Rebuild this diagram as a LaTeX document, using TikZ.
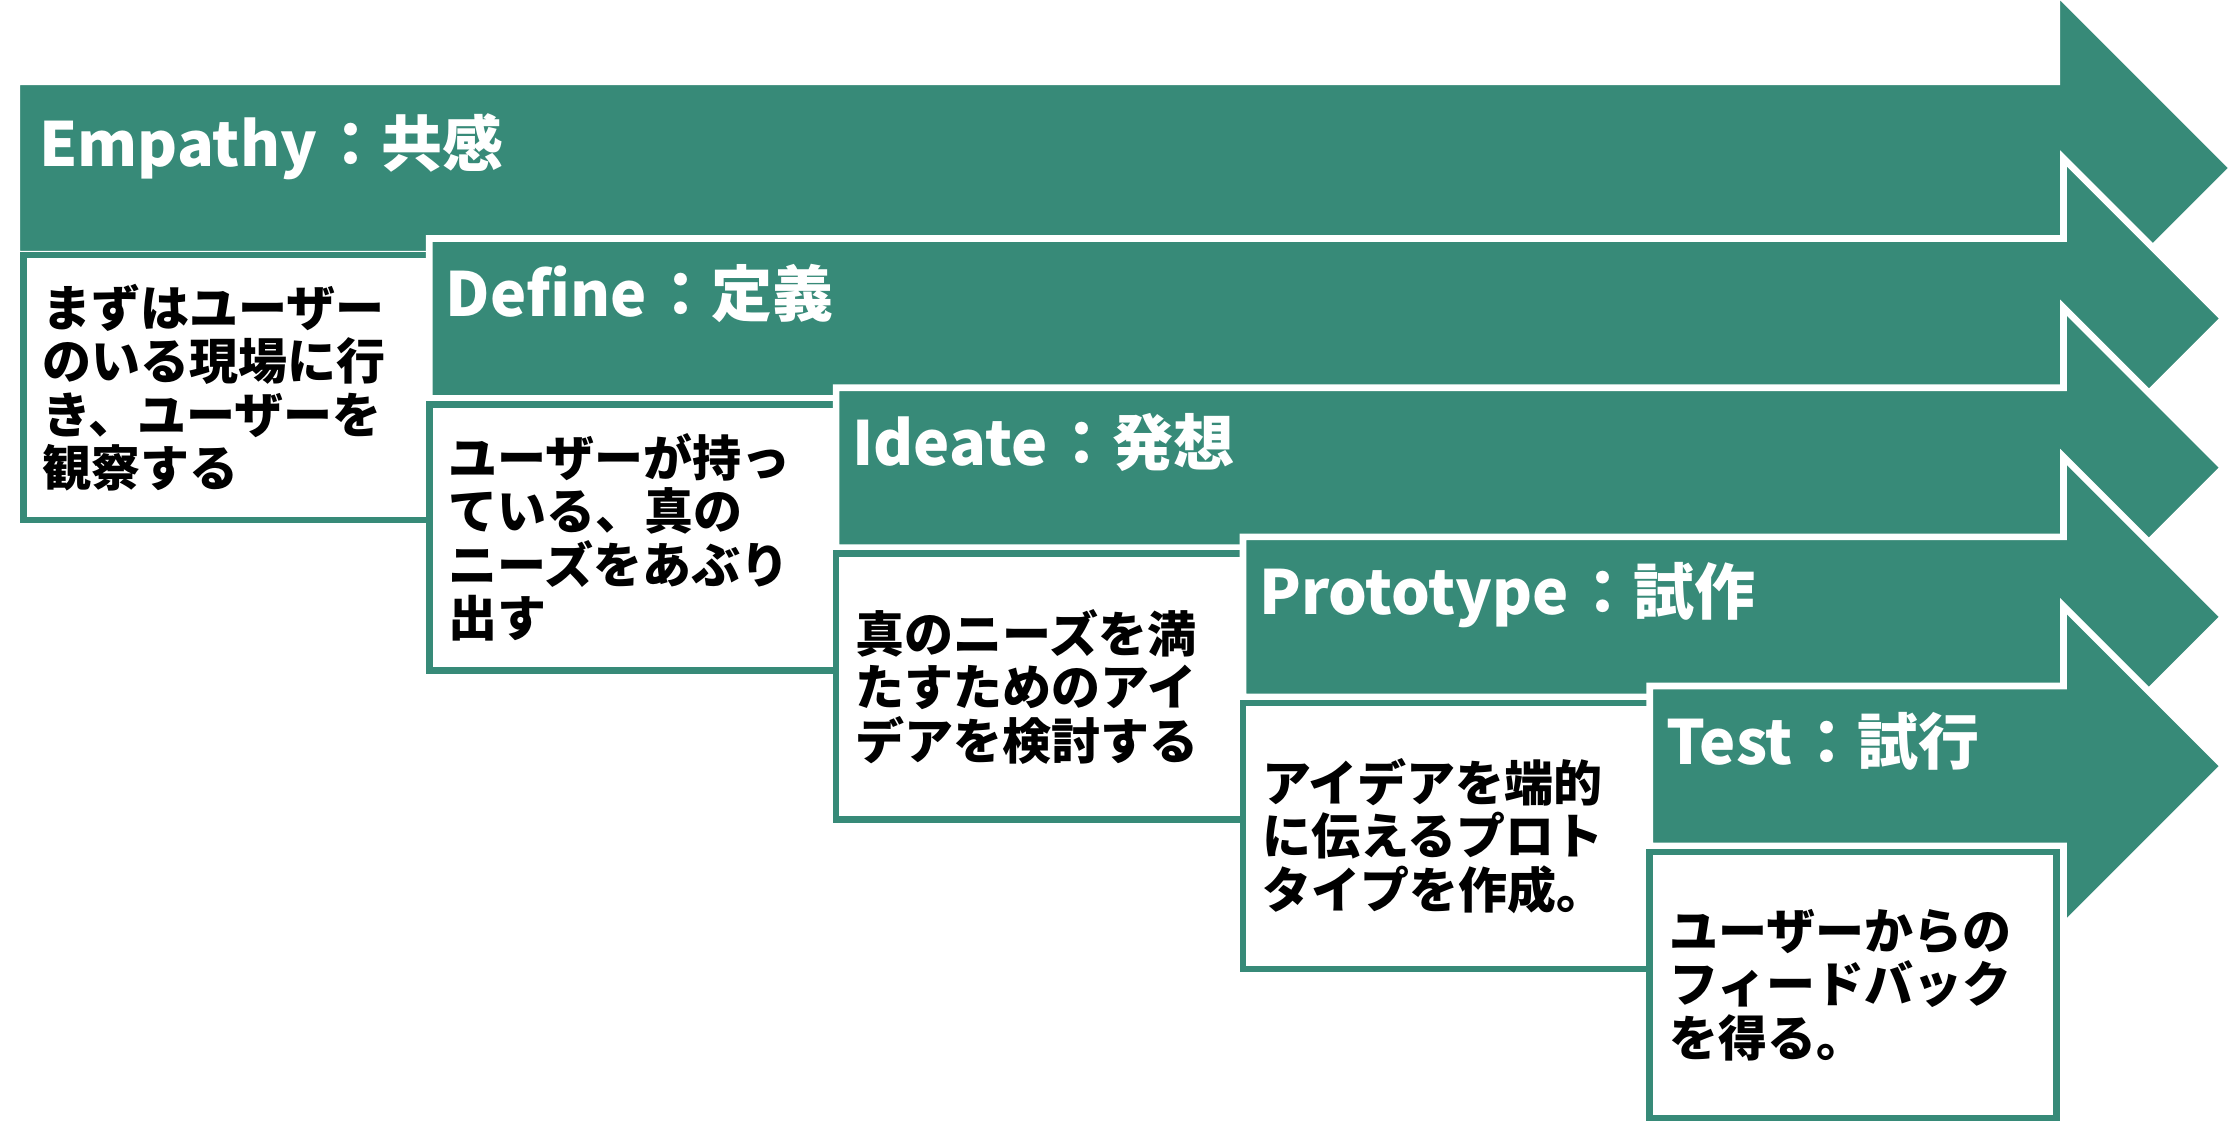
\documentclass[tikz,border=0pt]{standalone}
\usepackage{fontspec}
\newfontfamily\jpfont{Noto Sans CJK JP}
\definecolor{tg}{RGB}{55,138,120}
\begin{document}
\begin{tikzpicture}[x=0.5pt,y=-0.5pt,
  arrowshape/.style={fill=tg,draw=white,line width=3.35pt,line join=miter},
  boxshape/.style={fill=white,draw=tg,line width=3.35pt,line join=miter},
  titletext/.style={anchor=base west,inner sep=0pt,text=white,font=\jpfont\bfseries\fontsize{30.5}{36}\selectfont},
  bodytext/.style={anchor=west,inner sep=0pt,align=left,text=black,font=\jpfont\bfseries\fontsize{24.5}{26.75}\selectfont}]
\useasboundingbox (0,0) rectangle (2229,1122);
\fill[white] (0,0) rectangle (2229,1122);
% Stage 0: Empathy
\draw[arrowshape] (16.7,81.7) -- (2056.7,81.7) -- (2056.7,-8) -- (2232.7,168) -- (2056.7,344) -- (2056.7,254.3) -- (16.7,254.3) -- cycle;
\draw[boxshape] (23.3,255) rectangle (429.3,520);
\node[titletext] (t0) at (39,166.7) {Empathy\hspace{2pt}：共感};
\node[bodytext] (b0) at (42.3,387.5) {まずはユーザー\\のいる現場に行\\き、ユーザーを\\観察する};
% Stage 1: Define
\draw[arrowshape] (429.3,238.5) -- (2063.5,238.5) -- (2063.5,158.5) -- (2223.5,318.5) -- (2063.5,478.5) -- (2063.5,398.5) -- (429.3,398.5) -- cycle;
\draw[boxshape] (429.3,404.5) rectangle (836.3,670.5);
\node[titletext] (t1) at (445.3,316.5) {Define\hspace{2pt}：定義};
\node[bodytext] (b1) at (448.3,537.5) {ユーザーが持っ\\ている、真の\\ニーズをあぶり\\出す};
% Stage 2: Ideate
\draw[arrowshape] (836.1,387.7) -- (2063.5,387.7) -- (2063.5,307.7) -- (2223.5,467.7) -- (2063.5,627.7) -- (2063.5,547.7) -- (836.1,547.7) -- cycle;
\draw[boxshape] (836.1,553.7) rectangle (1243.1,819.7);
\node[titletext] (t2) at (852.1,465.7) {Ideate\hspace{2pt}：発想};
\node[bodytext] (b2) at (855.1,686.7) {真のニーズを満\\たすためのアイ\\デアを検討する};
% Stage 3: Prototype
\draw[arrowshape] (1242.9,536.9) -- (2063.5,536.9) -- (2063.5,456.9) -- (2223.5,616.9) -- (2063.5,776.9) -- (2063.5,696.9) -- (1242.9,696.9) -- cycle;
\draw[boxshape] (1242.9,702.9) rectangle (1649.9,968.9);
\node[titletext] (t3) at (1258.9,614.9) {Prototype\hspace{2pt}：試作};
\node[bodytext] (b3) at (1261.9,835.9) {アイデアを端的\\に伝えるプロト\\タイプを作成。};
% Stage 4: Test
\draw[arrowshape] (1649.7,686.1) -- (2063.5,686.1) -- (2063.5,606.1) -- (2223.5,766.1) -- (2063.5,926.1) -- (2063.5,846.1) -- (1649.7,846.1) -- cycle;
\draw[boxshape] (1649.7,852.1) rectangle (2056.7,1118.1);
\node[titletext] (t4) at (1665.7,764.1) {Test\hspace{2pt}：試行};
\node[bodytext] (b4) at (1668.7,985.1) {ユーザーからの\\フィードバック\\を得る。};
\end{tikzpicture}
\end{document}
